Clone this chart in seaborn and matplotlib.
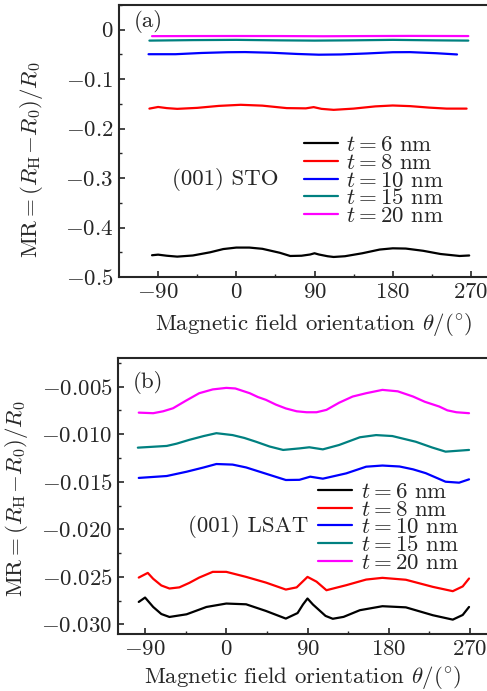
import matplotlib
matplotlib.use("Agg")
import matplotlib.pyplot as plt
import matplotlib.ticker as mticker
import numpy as np
import pandas as pd
import seaborn as sns

# ---------------- data ----------------
labels = [r"$t=6$ nm", r"$t=8$ nm", r"$t=10$ nm", r"$t=15$ nm", r"$t=20$ nm"]
colors = ["#000000", "#ff0000", "#0000ff", "#008080", "#ff00ff"]

# panel (a): (001) STO
a6_x = [-97, -90, -80, -68, -50, -30, -15, 0, 15, 30, 50, 62, 75, 85, 90, 95, 105, 112, 125, 145, 165, 180, 195, 215, 235, 257, 268]
a6_y = [-0.456, -0.4548, -0.457, -0.4588, -0.4565, -0.450, -0.4435, -0.4405, -0.4405, -0.443, -0.451, -0.4575, -0.457, -0.4545,
        -0.452, -0.4545, -0.458, -0.4595, -0.458, -0.452, -0.4445, -0.442, -0.4425, -0.447, -0.4535, -0.4575, -0.4565]
a8_x = [-100, -90, -80, -68, -45, -20, 5, 30, 58, 80, 89, 98, 112, 135, 160, 180, 200, 222, 242, 265]
a8_y = [-0.1595, -0.1562, -0.1585, -0.160, -0.158, -0.154, -0.1518, -0.1535, -0.1585, -0.159, -0.1565, -0.160, -0.162,
        -0.1595, -0.155, -0.1532, -0.1545, -0.1575, -0.1595, -0.1595]
a10_x = [-101, -70, -40, -10, 10, 40, 70, 95, 120, 150, 180, 200, 230, 254]
a10_y = [-0.0495, -0.0495, -0.047, -0.0455, -0.0452, -0.0465, -0.049, -0.0505, -0.050, -0.048, -0.0455, -0.0453, -0.0475, -0.050]
a15_x = [-100, -50, 0, 50, 90, 130, 180, 230, 267]
a15_y = [-0.022, -0.021, -0.0205, -0.0215, -0.022, -0.0215, -0.0205, -0.0215, -0.022]
a20_x = [-97, -50, 0, 50, 100, 150, 200, 267]
a20_y = [-0.013, -0.0128, -0.0127, -0.0128, -0.0132, -0.0128, -0.0125, -0.0128]

# panel (b): (001) LSAT
b6_x = [-97, -90, -81, -72, -63, -44, -22, 0, 22, 44, 66, 79, 85, 90, 96, 103, 110, 118, 130, 148, 173, 199, 229, 251, 262, 269]
b6_y = [-0.02763, -0.02717, -0.02816, -0.0289, -0.02921, -0.02893, -0.02816, -0.0278, -0.02788, -0.02858, -0.02938, -0.0288,
        -0.0279, -0.02727, -0.0279, -0.0285, -0.0291, -0.0294, -0.0292, -0.0285, -0.02808, -0.0282, -0.02903, -0.02949, -0.0290, -0.02816]
b8_x = [-97, -87, -81, -72, -63, -52, -41, -30, -15, 0, 22, 44, 66, 78, 90, 100, 111, 133, 155, 173, 199, 229, 251, 262, 269]
b8_y = [-0.02507, -0.02458, -0.0252, -0.0259, -0.02622, -0.0261, -0.02563, -0.02507, -0.02447, -0.02447, -0.0250, -0.0256,
        -0.02633, -0.0261, -0.0250, -0.0255, -0.0264, -0.02587, -0.02528, -0.0251, -0.0253, -0.02605, -0.0265, -0.0260, -0.02517]
b10_x = [-97, -66, -44, -25, -11, 7, 22, 37, 52, 66, 81, 93, 107, 120, 133, 155, 173, 192, 207, 221, 243, 258, 269]
b10_y = [-0.0146, -0.0144, -0.01395, -0.0135, -0.01314, -0.0132, -0.0135, -0.01395, -0.0144, -0.01482, -0.0148, -0.01447,
         -0.01468, -0.0144, -0.01412, -0.01342, -0.0133, -0.0134, -0.0137, -0.0141, -0.0150, -0.0151, -0.01475]
b15_x = [-98, -66, -55, -41, -25, -11, 7, 20, 33, 48, 63, 81, 92, 107, 125, 148, 166, 184, 197, 210, 228, 243, 269]
b15_y = [-0.01142, -0.01124, -0.0110, -0.0106, -0.0102, -0.0099, -0.0101, -0.0104, -0.0108, -0.0113, -0.01166, -0.0115,
         -0.01138, -0.0116, -0.01114, -0.01033, -0.0101, -0.0102, -0.0105, -0.0108, -0.0114, -0.01184, -0.01166]
b20_x = [-97, -81, -70, -59, -45, -30, -15, 0, 10, 26, 35, 44, 55, 66, 78, 89, 100, 111, 125, 140, 155, 173, 190, 207,
         220, 236, 245, 255, 269]
b20_y = [-0.00774, -0.0078, -0.0076, -0.00728, -0.0065, -0.0057, -0.0053, -0.00514, -0.0052, -0.0057, -0.0061, -0.0064,
         -0.0069, -0.0073, -0.0076, -0.0077, -0.0077, -0.00745, -0.0067, -0.00605, -0.0057, -0.00535, -0.0055, -0.00605,
         -0.0066, -0.0071, -0.0075, -0.0077, -0.0078]


def frame(series):
    rows = []
    for lab, (xs, ys) in zip(labels, series):
        rows.append(pd.DataFrame({"theta": xs, "mr": ys, "series": lab}))
    return pd.concat(rows, ignore_index=True)


df_a = frame([(a6_x, a6_y), (a8_x, a8_y), (a10_x, a10_y), (a15_x, a15_y), (a20_x, a20_y)])
df_b = frame([(b6_x, b6_y), (b8_x, b8_y), (b10_x, b10_y), (b15_x, b15_y), (b20_x, b20_y)])

# ---------------- style ----------------
FS = 16.5
sns.set_style("ticks")
plt.rcParams.update({
    "font.family": "serif",
    "font.serif": ["cmr10", "DejaVu Serif"],
    "mathtext.fontset": "cm",
    "axes.formatter.use_mathtext": True,
    "axes.unicode_minus": True,
    "font.size": FS,
    "axes.linewidth": 1.5,
    "xtick.direction": "in",
    "ytick.direction": "in",
    "xtick.major.size": 4,
    "ytick.major.size": 4,
    "xtick.minor.size": 2.5,
    "ytick.minor.size": 2.5,
    "xtick.major.width": 1.2,
    "ytick.major.width": 1.2,
    "xtick.minor.width": 1.0,
    "ytick.minor.width": 1.0,
})

W, H = 487, 691
fig = plt.figure(figsize=(W / 100, H / 100), dpi=100)
ax_a = fig.add_axes([119 / W, 1 - 277 / H, 378 / W, 272 / H])
ax_b = fig.add_axes([118 / W, 1 - 634 / H, 379 / W, 276 / H])

palette = dict(zip(labels, colors))


def mathfmt(dec):
    def f(v, pos):
        if abs(v) < 1e-12:
            return r"$0$"
        return "$" + (f"{v:.{dec}f}") + "$"
    return mticker.FuncFormatter(f)


for ax, df, ylim, xlim, ymaj, ymin, dec, tag, sub, legpos, tagpos, subpos in [
    (ax_a, df_a, (-0.5, 0.05), (-135, 300), 0.1, 0.05, 1, "(a)", "(001) STO", (0.489, 0.522), (0.077, 0.941), (0.28, 0.357)),
    (ax_b, df_b, (-0.031, -0.002), (-120, 300), 0.005, 0.0025, 3, "(b)", "(001) LSAT", (0.528, 0.551), (0.079, 0.913), (0.343, 0.391)),
]:
    sns.lineplot(data=df, x="theta", y="mr", hue="series", hue_order=labels, palette=palette,
                 linewidth=1.6, ax=ax, sort=True, estimator=None)
    ax.set_xlim(*xlim)
    ax.set_ylim(*ylim)
    ax.xaxis.set_major_locator(mticker.FixedLocator([-90, 0, 90, 180, 270]))
    ax.xaxis.set_minor_locator(mticker.FixedLocator([-45, 45, 135, 225]))
    ax.yaxis.set_major_locator(mticker.MultipleLocator(ymaj))
    ax.yaxis.set_minor_locator(mticker.MultipleLocator(ymin))
    ax.xaxis.set_major_formatter(mticker.FuncFormatter(lambda v, p: "$%d$" % v))
    ax.yaxis.set_major_formatter(mathfmt(dec))
    ax.tick_params(axis="both", which="major", labelsize=FS, pad=4)
    ax.tick_params(top=False, right=False, which="both")
    for s in ax.spines.values():
        s.set_visible(True)
        s.set_linewidth(1.5)
    ax.set_xlabel(r"Magnetic field orientation $\theta/(^{\circ})$", fontsize=FS)
    ax.set_ylabel(r"MR$=(R_{\mathrm{H}}\!-\!R_0)/R_0$", fontsize=FS)
    leg = ax.legend(loc="upper left", bbox_to_anchor=legpos, frameon=False, fontsize=FS,
                    handlelength=1.5, handletextpad=0.35, labelspacing=-0.1,
                    borderpad=0, borderaxespad=0)
    for ln in leg.get_lines():
        ln.set_linewidth(1.6)
    ax.text(*tagpos, tag, transform=ax.transAxes, ha="center", va="center", fontsize=FS)
    ax.text(*subpos, sub, transform=ax.transAxes, ha="center", va="center", fontsize=FS)

ax_a.yaxis.set_label_coords(-0.196, 0.43)
ax_b.yaxis.set_label_coords(-0.232, 0.49)
ax_a.xaxis.set_label_coords(0.516, -0.125)
ax_b.xaxis.set_label_coords(0.487, -0.11)

fig.savefig("out.png", dpi=100)
